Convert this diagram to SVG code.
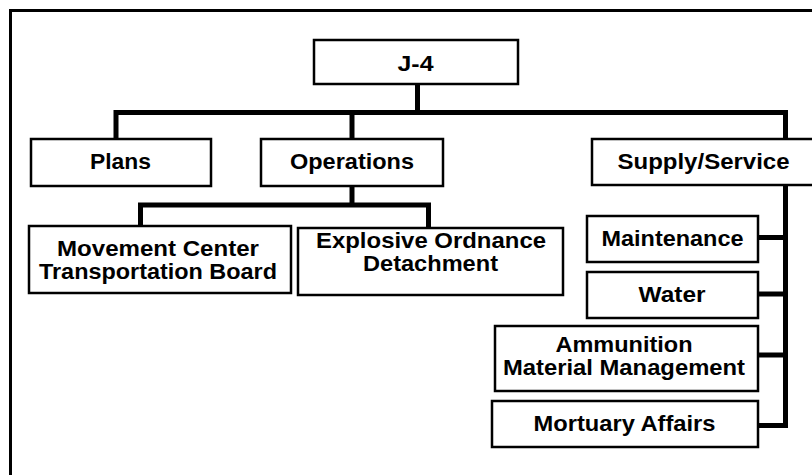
<svg xmlns="http://www.w3.org/2000/svg" width="812" height="475" viewBox="0 0 812 475">
<style>
.box{fill:#fff;stroke:#000;stroke-width:2.5}
.lbl{font-family:"Liberation Sans",Arial,Helvetica,sans-serif;font-weight:bold;font-size:21.5px;fill:#000;text-anchor:middle}
.conn{fill:none;stroke:#000;stroke-width:5;stroke-linejoin:miter}
.frame{fill:none;stroke:#000;stroke-width:3}
</style>
<rect width="812" height="475" fill="#fff"/>
<path class="frame" d="M10.5,480 V10.5 H816"/>
<g id="connectors">
<path class="conn" d="M417.5,84 V112.5"/>
<path class="conn" d="M116,139 V112.5 H785.5 V185"/>
<path class="conn" d="M352,112.5 V139"/>
<path class="conn" d="M352,186 V205"/>
<path class="conn" d="M140.5,226 V205 H428.5 V228"/>
<path class="conn" d="M785.5,185 V428"/>
<path class="conn" d="M758,237.5 H785.5"/>
<path class="conn" d="M758,294 H785.5"/>
<path class="conn" d="M758,355 H785.5"/>
<path class="conn" d="M758,425.5 H785.5"/>
</g>
<g id="j4">
<rect class="box" x="314" y="40" width="204" height="44"/>
<text class="lbl" x="415.5" y="70.5" textLength="36" lengthAdjust="spacingAndGlyphs">J-4</text>
</g>
<g id="plans">
<rect class="box" x="31" y="139" width="180" height="47"/>
<text class="lbl" x="120.5" y="169" textLength="61" lengthAdjust="spacingAndGlyphs">Plans</text>
</g>
<g id="operations">
<rect class="box" x="261" y="139" width="182" height="47"/>
<text class="lbl" x="352" y="169" textLength="124" lengthAdjust="spacingAndGlyphs">Operations</text>
</g>
<g id="supply">
<rect class="box" x="592" y="139" width="224" height="46"/>
<text class="lbl" x="703.5" y="169" textLength="172" lengthAdjust="spacingAndGlyphs">Supply/Service</text>
</g>
<g id="movement">
<rect class="box" x="29" y="226" width="262" height="67"/>
<text class="lbl" x="158" y="255.5" textLength="202" lengthAdjust="spacingAndGlyphs">Movement Center</text>
<text class="lbl" x="158" y="278.5" textLength="238" lengthAdjust="spacingAndGlyphs">Transportation Board</text>
</g>
<g id="explosive">
<rect class="box" x="298" y="228" width="265" height="67"/>
<text class="lbl" x="431" y="247.5" textLength="230" lengthAdjust="spacingAndGlyphs">Explosive Ordnance</text>
<text class="lbl" x="430.5" y="270.5" textLength="135" lengthAdjust="spacingAndGlyphs">Detachment</text>
</g>
<g id="maintenance">
<rect class="box" x="587" y="216" width="171" height="46"/>
<text class="lbl" x="672.5" y="245.5" textLength="142" lengthAdjust="spacingAndGlyphs">Maintenance</text>
</g>
<g id="water">
<rect class="box" x="587" y="272" width="171" height="46"/>
<text class="lbl" x="672" y="302" textLength="67" lengthAdjust="spacingAndGlyphs">Water</text>
</g>
<g id="ammunition">
<rect class="box" x="495" y="326" width="263" height="65"/>
<text class="lbl" x="624" y="352" textLength="137" lengthAdjust="spacingAndGlyphs">Ammunition</text>
<text class="lbl" x="624" y="375" textLength="242" lengthAdjust="spacingAndGlyphs">Material Management</text>
</g>
<g id="mortuary">
<rect class="box" x="492" y="401" width="266" height="46"/>
<text class="lbl" x="624.5" y="430.5" textLength="182" lengthAdjust="spacingAndGlyphs">Mortuary Affairs</text>
</g>
</svg>
